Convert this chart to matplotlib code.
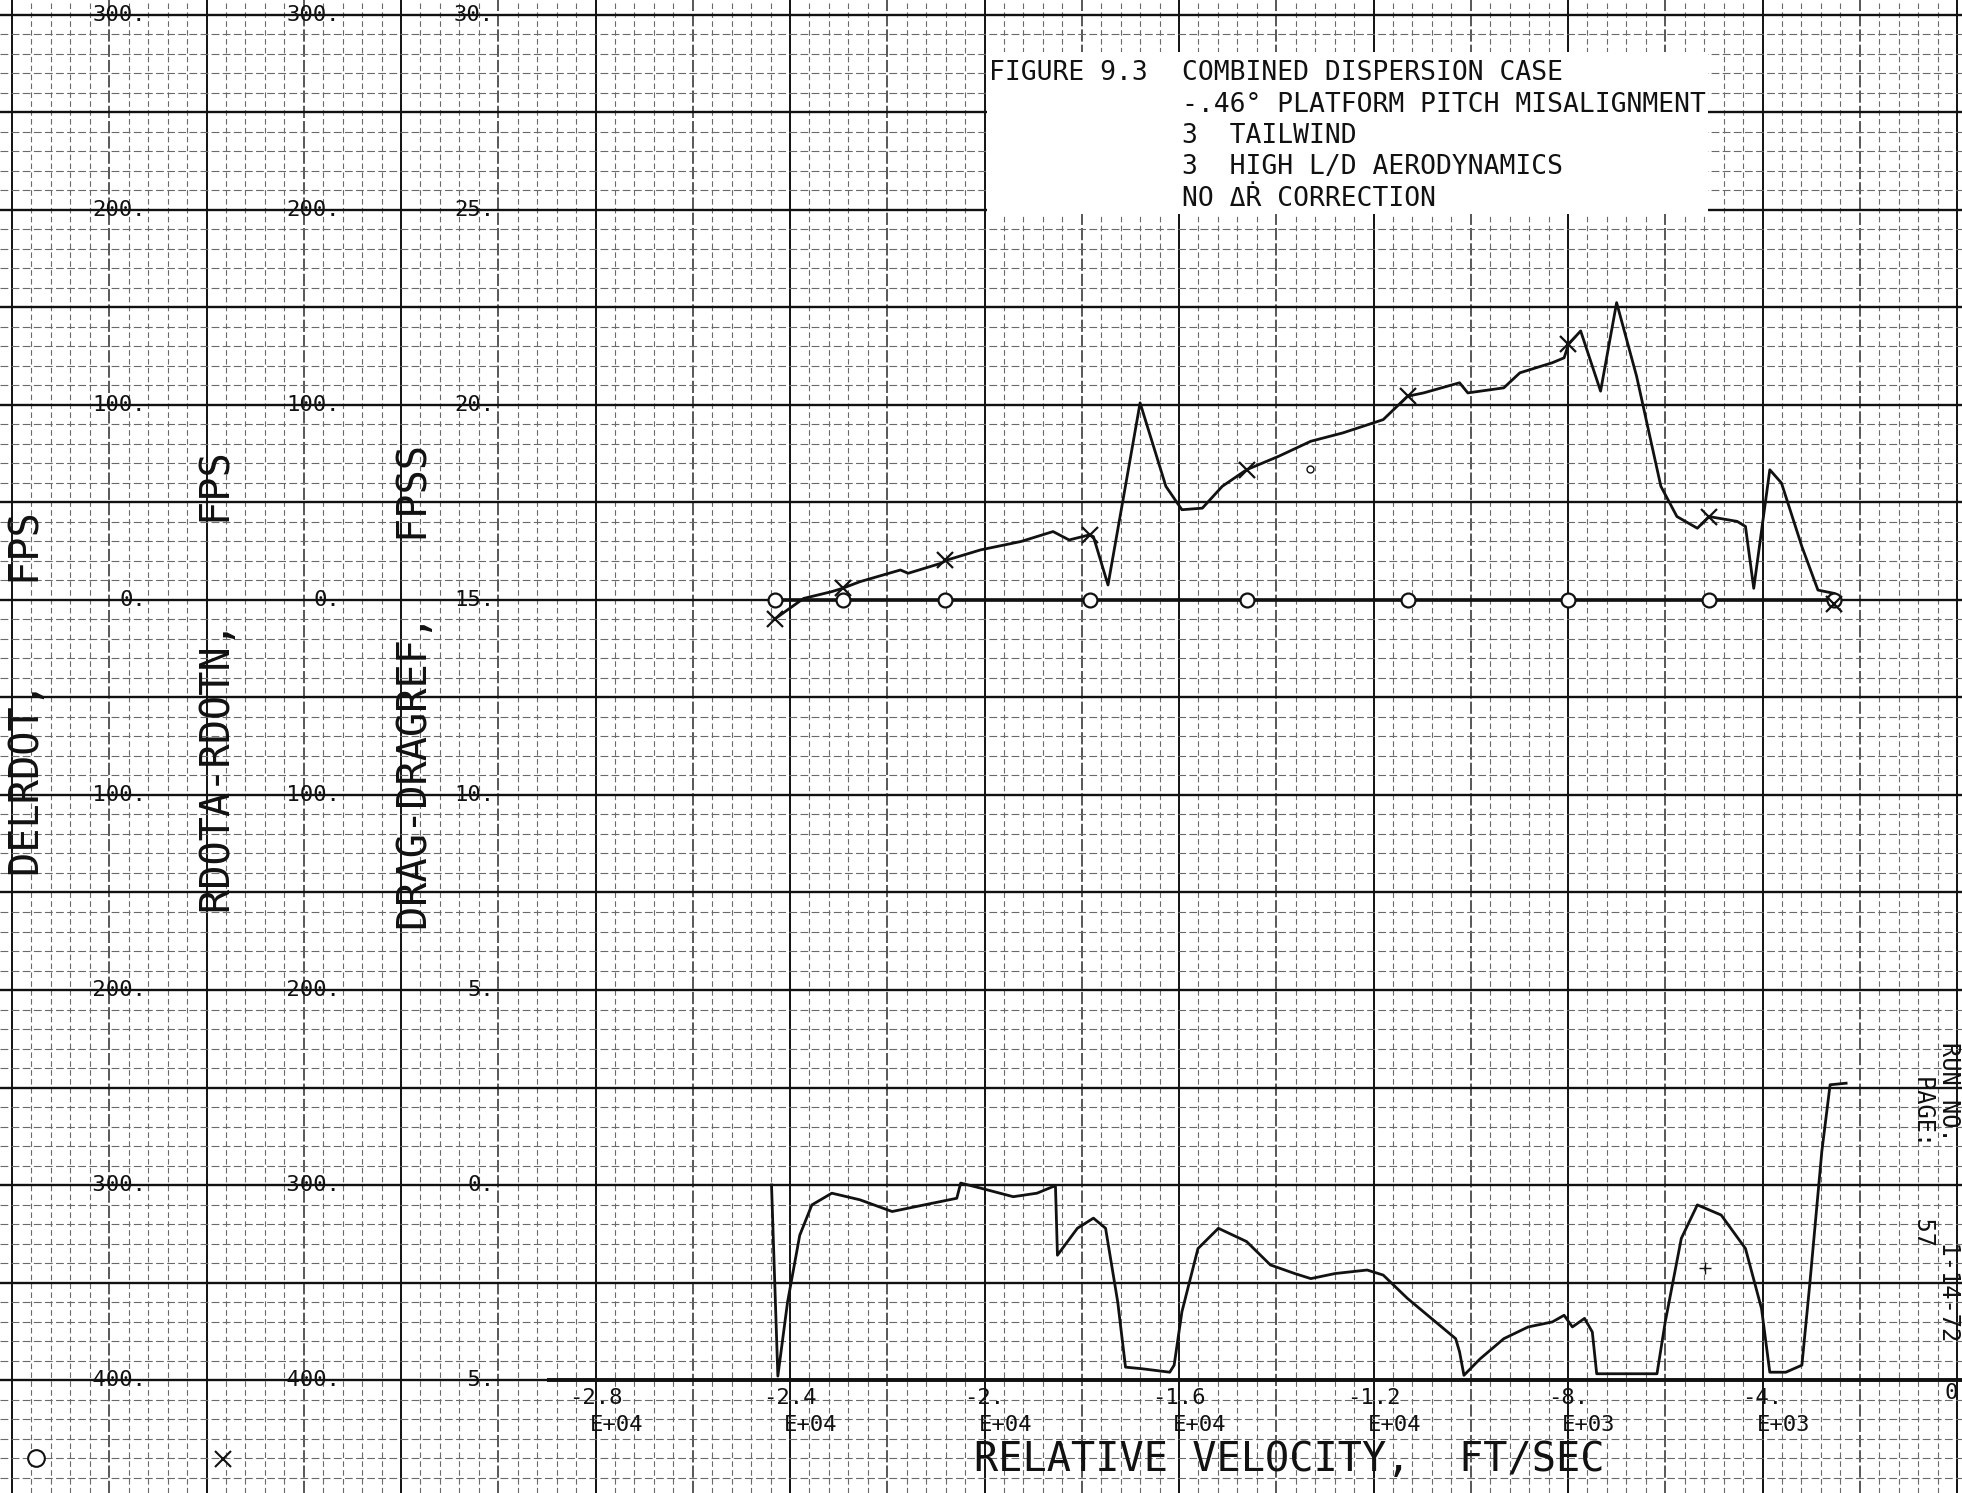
import matplotlib
matplotlib.use("Agg")
import matplotlib.pyplot as plt
from matplotlib.patches import Rectangle
import numpy as np

# ---- data (velocity in FT/SEC) ----
# DELRDOT, FPS  (flat line with circle symbols)
delrdot_v = [-24300, -22920, -20820, -17840, -14610, -11300, -7990, -5100, -2530]
delrdot = [0, 0, 0, 0, 0, 0, 0, 0, 0]

# RDOTA-RDOTN, FPS  (X symbols)
rdota_v = [-24300, -23720, -23140, -22920, -22560, -21730, -21570, -20900, -20770,
           -20080, -19250, -18590, -18260, -17840, -17760, -17460, -16800, -16270,
           -15940, -15520, -15110, -14610, -13950, -13290, -12630, -11800, -11300,
           -10970, -10230, -10060, -9320, -8990, -8320, -8080, -7990, -7740, -7330,
           -7000, -6590, -6090, -5760, -5340, -5100, -4520, -4350, -4180, -3850,
           -3610, -3190, -2860, -2530]
rdota = [-9.5, 0.8, 4.3, 6.0, 9.4, 15.4, 13.7, 18.8, 20.5,
         25.7, 30.0, 35.1, 30.8, 33.4, 32.5, 7.7, 101.1, 58.3,
         46.3, 47.1, 58.3, 66.8, 73.7, 81.4, 85.7, 92.5, 104.5,
         106.2, 111.4, 106.2, 108.8, 116.5, 121.7, 124.2, 131.1, 138.0, 107.1,
         152.5, 114.8, 58.3, 42.8, 36.8, 42.8, 40.3, 37.7, 6.0, 66.8,
         60.0, 27.4, 5.1, 3.4]
rdota_mark_v = [-24300, -22920, -20820, -17840, -14610, -11300, -7990, -5100, -2530]
rdota_mark = [-9.5, 6.0, 20.5, 33.4, 66.8, 104.5, 131.1, 42.8, -2.0]

# DRAG-DRAGREF, FPSS
drag_v = [-24380, -24250, -24050, -23800, -23550, -23140, -22560, -21900, -21240,
          -20570, -20490, -20080, -19410, -18920, -18590, -18540, -18500, -18090,
          -17760, -17510, -17260, -17100, -16770, -16190, -16100, -15940, -15610,
          -15190, -14610, -14120, -13620, -13290, -12790, -12130, -11800, -11300,
          -10810, -10310, -10230, -10140, -9810, -9320, -8820, -8320, -8080,
          -7910, -7660, -7500, -7410, -6170, -6000, -5670, -5340, -4850, -4350,
          -4020, -3850, -3520, -3190, -3030, -2780, -2610, -2280]
drag = [0.0, -4.9, -3.0, -1.29, -0.51, -0.21, -0.38, -0.68, -0.51,
        -0.34, 0.05, -0.08, -0.30, -0.21, -0.04, -0.04, -1.80, -1.11,
        -0.85, -1.11, -3.0, -4.67, -4.71, -4.80, -4.62, -3.25, -1.63,
        -1.11, -1.45, -2.05, -2.27, -2.40, -2.27, -2.18, -2.31, -2.91,
        -3.42, -3.94, -4.28, -4.88, -4.46, -3.94, -3.64, -3.51, -3.34,
        -3.64, -3.42, -3.77, -4.84, -4.84, -3.51, -1.37, -0.51, -0.77, -1.63,
        -3.17, -4.80, -4.80, -4.62, -2.57, 0.86, 2.57, 2.61]

# axis tick labels
y_ticks = [300, 200, 100, 0, -100, -200, -300, -400]
fps_labels = ["300.", "200.", "100.", "0.", "-100.", "-200.", "-300.", "-400."]
fpss_labels = ["30.", "25.", "20.", "15.", "10.", "5.", "0.", "-5."]
x_ticks = [-28000, -24000, -20000, -16000, -12000, -8000, -4000, 0]
x_lab1 = ["-2.8", "-2.4", "-2.", "-1.6", "-1.2", "-8.", "-4.", "0"]
x_lab2 = ["E+04", "E+04", "E+04", "E+04", "E+04", "E+03", "E+03", ""]

# ---- plotter sheet geometry (pixels of the 1962x1493 sheet) ----
W, H = 1962, 1493
X0_PX, PX_PER_4000 = 1957.0, 194.5
Y0_PX, PX_PER_UNIT = 600.0, 1.95
XLIM = (-X0_PX * 4000 / PX_PER_4000, (W - X0_PX) * 4000 / PX_PER_4000)
YLIM = ((Y0_PX - H) / PX_PER_UNIT, Y0_PX / PX_PER_UNIT)

MONO = ["DejaVu Sans Mono", "DejaVu Sans"]
INK = "#111111"


def fx(px):
    return px / W


def fy(py):
    return 1 - py / H


def drag_to_fps(vals):
    # DRAG-DRAGREF scale: 15 FPSS on the 0 line, 5 FPSS per 100 FPS
    return [(v - 15) * 20 for v in vals]


fig = plt.figure(figsize=(W / 100, H / 100), dpi=100)
ax = fig.add_axes([0, 0, 1, 1])
ax.set_xlim(XLIM)
ax.set_ylim(YLIM)
ax.set_axis_off()

# ---- grid ----
gx = np.arange(-40000, 1, 400)
minor_x = [v for v in gx if v % 2000 != 0]
mid_x = [v for v in gx if v % 2000 == 0 and v % 4000 != 0]
major_x = [v for v in gx if v % 4000 == 0]
ax.vlines(minor_x, *YLIM, colors="#6a6a6a", lw=0.8, linestyles=(0, (5, 3)), zorder=1)
ax.vlines(mid_x, *YLIM, colors="#2a2a2a", lw=1.1, linestyles=(0, (8, 2)), zorder=1)
ax.vlines(major_x, *YLIM, colors=INK, lw=1.4, zorder=1)

gy = np.arange(-450, 301, 10)
minor_y = [v for v in gy if v % 50 != 0 or v < -400]
major_y = [v for v in gy if v % 50 == 0 and v >= -400]
ax.hlines(minor_y, *XLIM, colors="#6a6a6a", lw=0.8, linestyles=(0, (7, 3)), zorder=1)
ax.hlines(major_y, *XLIM, colors=INK, lw=1.7, zorder=1)
# heavy x-axis line
ax.hlines([-400], -29000, XLIM[1], colors=INK, lw=2.8, zorder=2)

# ---- curves ----
ax.plot(delrdot_v, delrdot, color=INK, lw=2.6, zorder=4)
ax.plot(delrdot_v, delrdot, ls="none", marker="o", ms=10, mfc="white",
        mec=INK, mew=1.6, zorder=5)
ax.plot(rdota_v, rdota, color=INK, lw=2.0, zorder=4)
ax.plot(rdota_mark_v, rdota_mark, ls="none", marker="x", ms=11, mec=INK,
        mew=1.6, zorder=5)
ax.plot(drag_v, drag_to_fps(drag), color=INK, lw=2.0, zorder=4)
ax.plot([-13300], [67], ls="none", marker="o", ms=5, mfc="white", mec=INK, zorder=5)
ax.plot([-5180], drag_to_fps([-2.14]), ls="none", marker="+", ms=9, mec=INK, zorder=5)

# ---- y tick labels (three scales) ----
ytr = ax.get_yaxis_transform()
for val, l1, l3 in zip(y_ticks, fps_labels, fpss_labels):
    ax.text(fx(146), val, l1, transform=ytr, ha="right", va="center",
            fontsize=16, family=MONO, color=INK, zorder=6)
    ax.text(fx(340), val, l1, transform=ytr, ha="right", va="center",
            fontsize=16, family=MONO, color=INK, zorder=6)
    ax.text(fx(494), val, l3, transform=ytr, ha="right", va="center",
            fontsize=16, family=MONO, color=INK, zorder=6)

# ---- x tick labels ----
xtr = ax.get_xaxis_transform()
shift = 6 * 4000 / PX_PER_4000
for val, l1, l2 in zip(x_ticks, x_lab1, x_lab2):
    if l2:
        ax.text(val, fy(1398), l1, transform=xtr, ha="center", va="center",
                fontsize=16, family=MONO, color=INK, zorder=6)
        ax.text(val - shift, fy(1425), l2, transform=xtr, ha="left", va="center",
                fontsize=16, family=MONO, color=INK, zorder=6)
    else:
        ax.text(val - shift, fy(1393), l1, transform=xtr, ha="center", va="center",
                fontsize=16, family=MONO, color=INK, zorder=6)

# ---- axis titles ----
fig.text(fx(28), fy(694), "DELRDOT,    FPS", rotation=90, ha="center", va="center",
         fontsize=29, family=MONO, color=INK)
fig.text(fx(219), fy(683), "RDOTA-RDOTN,    FPS", rotation=90, ha="center", va="center",
         fontsize=29, family=MONO, color=INK)
fig.text(fx(416), fy(688), "DRAG-DRAGREF,   FPSS", rotation=90, ha="center", va="center",
         fontsize=29, family=MONO, color=INK)
fig.text(fx(974), fy(1460), "RELATIVE VELOCITY,  FT/SEC", ha="left", va="center",
         fontsize=29, family=MONO, color=INK)

# ---- caption block ----
ax.add_patch(Rectangle((fx(987), fy(214)), fx(1708) - fx(987), fy(52) - fy(214),
                       transform=ax.transAxes, facecolor="white", edgecolor="none",
                       zorder=3))
fig.text(fx(989), fy(73), "FIGURE 9.3", ha="left", va="center", fontsize=19,
         family=MONO, color=INK)
caption = ["COMBINED DISPERSION CASE",
           "-.46\u00b0 PLATFORM PITCH MISALIGNMENT",
           "3  TAILWIND",
           "3  HIGH L/D AERODYNAMICS",
           "NO \u0394\u1e58 CORRECTION"]
for i, line in enumerate(caption):
    fig.text(fx(1182), fy(73 + 31.5 * i), line, ha="left", va="center",
             fontsize=19, family=MONO, color=INK)

# ---- run stamp on the right edge ----
fig.text(fx(1924), fy(1075), "PAGE:     57", rotation=270, ha="center", va="top",
         fontsize=17, family=MONO, color=INK)
fig.text(fx(1949), fy(1042), "RUN NO.       1-14-72", rotation=270, ha="center",
         va="top", fontsize=17, family=MONO, color=INK)

# ---- symbol keys bottom-left ----
ax.plot([fx(36)], [fy(1458)], transform=ax.transAxes, marker="o", ms=12,
        mfc="white", mec=INK, mew=1.5, ls="none", zorder=6)
ax.plot([fx(223)], [fy(1459)], transform=ax.transAxes, marker="x", ms=11,
        mec=INK, mew=1.5, ls="none", zorder=6)

fig.savefig("out.png", dpi=100, facecolor="white")
